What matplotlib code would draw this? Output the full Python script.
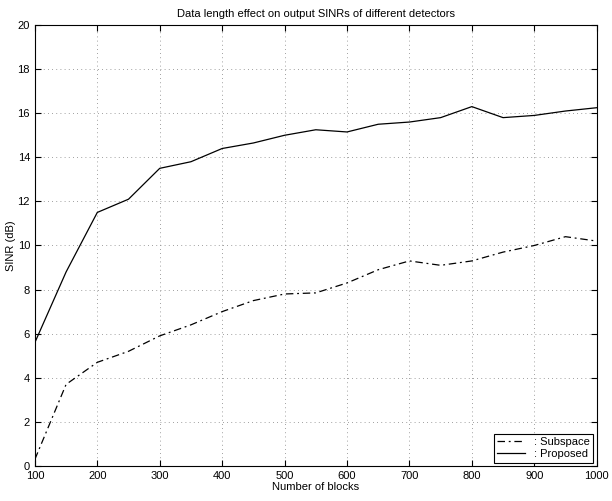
import matplotlib
matplotlib.use("Agg")
import matplotlib.pyplot as plt

plt.rcParams["font.family"] = ["Liberation Sans", "DejaVu Sans"]

# data
blocks = [100, 150, 200, 250, 300, 350, 400, 450, 500, 550,
          600, 650, 700, 750, 800, 850, 900, 950, 1000]
sinr_proposed = [5.6, 8.8, 11.5, 12.1, 13.5, 13.8, 14.4, 14.65, 15.0, 15.25,
                 15.15, 15.5, 15.6, 15.8, 16.3, 15.8, 15.9, 16.1, 16.25]
sinr_subspace = [0.3, 3.7, 4.7, 5.2, 5.9, 6.4, 7.0, 7.5, 7.8, 7.85,
                 8.3, 8.9, 9.3, 9.1, 9.3, 9.7, 10.0, 10.4, 10.2]

fig = plt.figure(figsize=(6.12, 5.01), dpi=100)
ax = fig.add_axes([0.057, 0.07, 0.918, 0.88])

ax.plot(blocks, sinr_subspace, color="black", linestyle=(0, (6, 3, 1.5, 3)),
        linewidth=0.9, label=": Subspace")
ax.plot(blocks, sinr_proposed, color="black", linestyle="-", linewidth=0.9,
        label=": Proposed")

ax.set_xlim(100, 1000)
ax.set_ylim(0, 20)
ax.set_xticks(range(100, 1001, 100))
ax.set_yticks(range(0, 21, 2))
ax.tick_params(direction="in", length=4, labelsize=8, top=True, right=True,
               labeltop=False, labelright=False)
ax.grid(True, linestyle=(0, (1, 4)), color="gray", linewidth=0.6)

ax.set_xlabel("Number of blocks", fontsize=8, labelpad=1)
ax.set_ylabel("SINR (dB)", fontsize=8, labelpad=1)
ax.set_title("Data length effect on output SINRs of different detectors",
             fontsize=8)

leg = ax.legend(loc="lower right", fontsize=8, fancybox=False, framealpha=1,
                edgecolor="black", handlelength=2.5, borderpad=0.3,
                labelspacing=0.2, borderaxespad=0.3)
leg.get_frame().set_linewidth(0.8)

fig.savefig("out.png", dpi=100)
